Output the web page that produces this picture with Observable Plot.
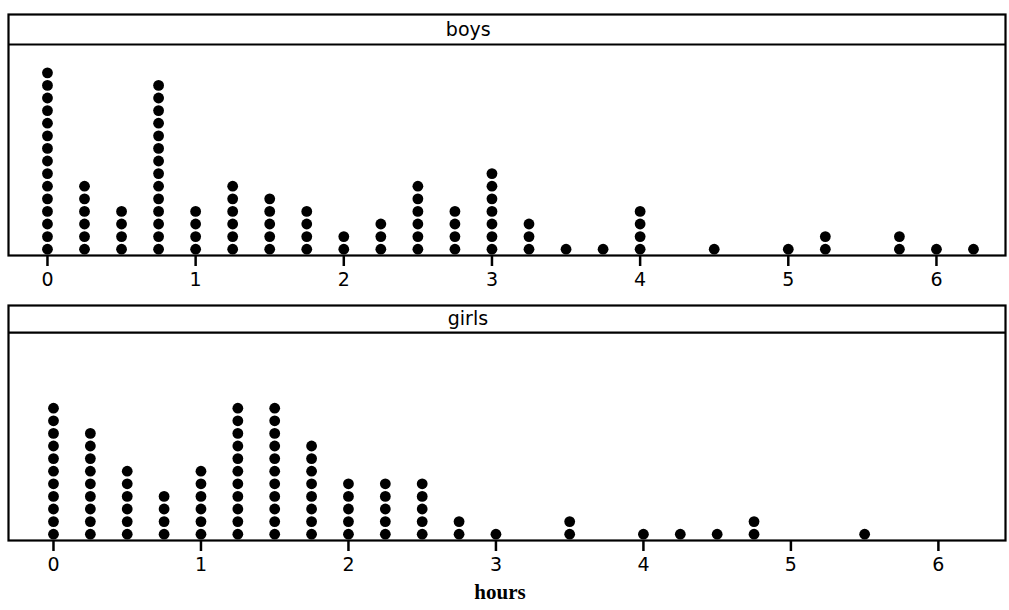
<!DOCTYPE html>
<html>
<head>
<meta charset="utf-8">
<script src="https://cdn.jsdelivr.net/npm/d3@7"></script>
<script src="https://cdn.jsdelivr.net/npm/@observablehq/plot@0.6"></script>
<style>
  html, body { margin: 0; padding: 0; background: #fff; }
  #chart { width: 1009px; }
  #chart svg { display: block; }
  .xlabel { width: 1000px; text-align: center; font-family: "Liberation Serif", "DejaVu Serif", serif; font-weight: bold; font-size: 21px; color: #000; margin-top: 2px; }
</style>
</head>
<body>
<div id="chart"></div>
<script>
// Hours categories (quarter-hour bins)
const hours = [0, 0.25, 0.5, 0.75, 1, 1.25, 1.5, 1.75, 2, 2.25, 2.5, 2.75, 3, 3.25, 3.5, 3.75, 4, 4.25, 4.5, 4.75, 5, 5.25, 5.5, 5.75, 6, 6.25];
// Number of dots per bin
const boys  = [15, 6, 4, 14, 4, 6, 5, 4, 2, 3, 6, 4, 7, 3, 1, 1, 4, 0, 1, 0, 1, 2, 0, 2, 1, 1];
const girls = [11, 9, 6, 4, 6, 11, 11, 8, 5, 5, 5, 2, 1, 0, 2, 0, 1, 1, 1, 2, 0, 0, 1, 0, 0, 0];
const tickValues = [0, 1, 2, 3, 4, 5, 6];
const tickLabels = ["0", "1", "2", "3", "4", "5", "6"];
const panelLabels = ["boys", "girls"];

function expand(counts) {
  const out = [];
  hours.forEach((h, i) => {
    for (let k = 1; k <= counts[i]; k++) out.push({hours: h, k: k - 0.5});
  });
  return out;
}

function panel(label, counts, cfg) {
  return Plot.plot({
    width: 1009,
    height: cfg.height,
    marginLeft: 8,
    marginRight: 4,
    marginTop: cfg.marginTop,
    marginBottom: cfg.marginBottom,
    style: {fontFamily: "'DejaVu Sans', Verdana, sans-serif", color: "#000", background: "#fff"},
    x: {domain: cfg.xDomain},
    y: {domain: [0, cfg.yMax], axis: null},
    marks: [
      Plot.frame({stroke: "#000", strokeWidth: 2.2}),
      Plot.ruleY([cfg.stripBottom], {stroke: "#000", strokeWidth: 2.2}),
      Plot.text([label], {x: cfg.labelX, y: (cfg.stripBottom + cfg.yMax) / 2, text: d => d, fontSize: 19, fill: "#000"}),
      Plot.dot(expand(counts), {x: "hours", y: "k", r: 5.4, fill: "#000", stroke: "none"}),
      Plot.axisX({ticks: tickValues, tickFormat: (d, i) => tickLabels[tickValues.indexOf(d)], tickSize: 11, tickPadding: 6, strokeWidth: 2.5, fontSize: 19, label: null, fill: "#000"})
    ]
  });
}

const chart = document.getElementById("chart");
chart.append(panel(panelLabels[0], boys, {
  height: 300, marginTop: 14, marginBottom: 45,
  xDomain: [-0.263, 6.466], yMax: 19.13, stripBottom: 16.75, labelX: 2.84
}));
chart.append(panel(panelLabels[1], girls, {
  height: 278, marginTop: 5, marginBottom: 38,
  xDomain: [-0.305, 6.455], yMax: 18.65, stripBottom: 16.5, labelX: 2.81
}));
const xl = document.createElement("div");
xl.className = "xlabel";
xl.textContent = "hours";
chart.append(xl);
</script>
</body>
</html>
